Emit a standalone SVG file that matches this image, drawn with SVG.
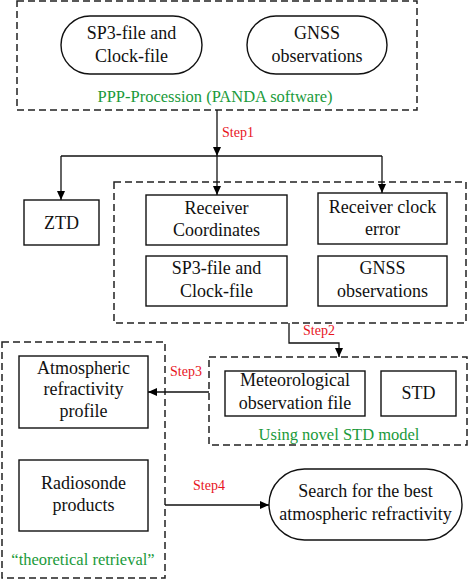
<svg xmlns="http://www.w3.org/2000/svg" width="474" height="583" viewBox="0 0 474 583">
<defs>
<marker id="ah" markerUnits="userSpaceOnUse" markerWidth="9" markerHeight="8" refX="9" refY="4" orient="auto">
<path d="M0,0 L9,4 L0,8 Z" fill="#000"/>
</marker>
<style>
.dash{fill:none;stroke:#222;stroke-width:1.5;stroke-dasharray:7,4}
.box{fill:#fff;stroke:#111;stroke-width:1.4}
text{font-family:'Liberation Serif','DejaVu Serif','Times New Roman',serif}
.t{font-size:18px;fill:#111;text-anchor:middle}
.g{font-size:16.5px;fill:#1a9a3a;text-anchor:middle}
.s{font-size:14px;fill:#e8141e;text-anchor:middle}
.c{fill:none;stroke:#111;stroke-width:1.3}
</style>
</defs>
<rect width="474" height="583" fill="#fff"/>

<g id="ppp">
<rect class="dash" x="17" y="1" width="400" height="109"/>
<text class="g" x="215" y="102">PPP-Procession (PANDA software)</text>
</g>
<g id="sp3pill">
<rect class="box" x="61" y="16" width="141" height="58" rx="29"/>
<text class="t" x="131.5" y="39">SP3-file and</text>
<text class="t" x="131.5" y="62">Clock-file</text>
</g>
<g id="gnsspill">
<rect class="box" x="247" y="16" width="140" height="58" rx="29"/>
<text class="t" x="317" y="39">GNSS</text>
<text class="t" x="317" y="62">observations</text>
</g>

<g id="outputs">
<rect class="dash" x="114" y="182" width="352" height="141"/>
</g>
<g id="ztd">
<rect class="box" x="24" y="200" width="75" height="45"/>
<text class="t" x="61.5" y="229">ZTD</text>
</g>
<g id="rc">
<rect class="box" x="146" y="195" width="141" height="50"/>
<text class="t" x="216.5" y="214">Receiver</text>
<text class="t" x="216.5" y="236">Coordinates</text>
</g>
<g id="rce">
<rect class="box" x="318" y="193" width="129" height="51"/>
<text class="t" x="382.5" y="213">Receiver clock</text>
<text class="t" x="382.5" y="235">error</text>
</g>
<g id="sp3box">
<rect class="box" x="146" y="256" width="141" height="50"/>
<text class="t" x="216.5" y="274">SP3-file and</text>
<text class="t" x="216.5" y="297">Clock-file</text>
</g>
<g id="gnssbox">
<rect class="box" x="318" y="256" width="129" height="50"/>
<text class="t" x="382.5" y="274">GNSS</text>
<text class="t" x="382.5" y="297">observations</text>
</g>

<g id="theoretical">
<rect class="dash" x="2" y="342" width="163" height="236"/>
<text class="g" x="83" y="565">“theoretical retrieval”</text>
</g>
<g id="arp">
<rect class="box" x="19" y="356" width="129" height="72"/>
<text class="t" x="83.5" y="374">Atmospheric</text>
<text class="t" x="83.5" y="395">refractivity</text>
<text class="t" x="83.5" y="417">profile</text>
</g>
<g id="radiosonde">
<rect class="box" x="19" y="460" width="129" height="71"/>
<text class="t" x="83.5" y="489">Radiosonde</text>
<text class="t" x="83.5" y="511">products</text>
</g>

<g id="stdmodel">
<rect class="dash" x="209" y="357" width="258" height="88"/>
<text class="g" x="339" y="440">Using novel STD model</text>
</g>
<g id="met">
<rect class="box" x="225" y="371" width="140" height="45"/>
<text class="t" x="295" y="386">Meteorological</text>
<text class="t" x="295" y="409">observation file</text>
</g>
<g id="std">
<rect class="box" x="381" y="371" width="75" height="45"/>
<text class="t" x="418.5" y="399">STD</text>
</g>

<g id="search">
<rect class="box" x="269" y="469" width="193" height="71" rx="35.5"/>
<text class="t" x="365.5" y="497">Search for the best</text>
<text class="t" x="365.5" y="520">atmospheric refractivity</text>
</g>

<g id="connectors">
<line class="c" x1="217" y1="110" x2="217" y2="156" marker-end="url(#ah)"/>
<line class="c" x1="61" y1="156" x2="382" y2="156"/>
<line class="c" x1="61" y1="156" x2="61" y2="200" marker-end="url(#ah)"/>
<line class="c" x1="217" y1="156" x2="217" y2="195" marker-end="url(#ah)"/>
<line class="c" x1="382" y1="156" x2="382" y2="193" marker-end="url(#ah)"/>
<path class="c" d="M289,323 V343 H339 V357" marker-end="url(#ah)"/>
<line class="c" x1="209" y1="392" x2="148" y2="392" marker-end="url(#ah)"/>
<line class="c" x1="165" y1="505" x2="269" y2="505" marker-end="url(#ah)"/>
<text class="s" x="238" y="137">Step1</text>
<text class="s" x="319" y="335">Step2</text>
<text class="s" x="186" y="376">Step3</text>
<text class="s" x="209" y="490">Step4</text>
</g>
</svg>
